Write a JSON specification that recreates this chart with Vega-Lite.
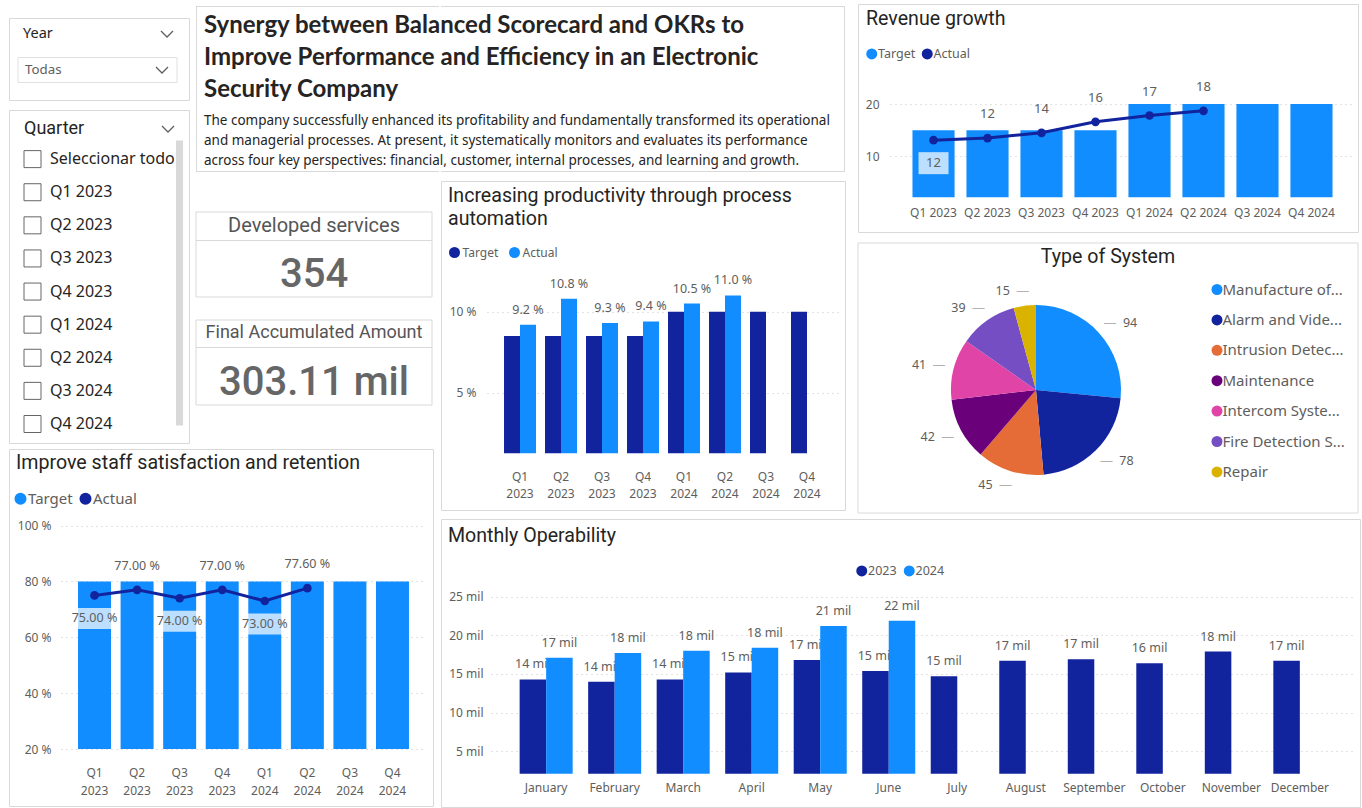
{
  "$schema": "https://vega.github.io/schema/vega-lite/v6.json",
  "background": "white",
  "padding": {"left": 8, "top": 3, "right": 0, "bottom": 0},
  "spacing": 0,
  "title": {
    "text": ["Synergy between Balanced Scorecard and OKRs to", "Improve Performance and Efficiency in an Electronic", "Security Company"],
    "subtitle": ["The company successfully enhanced its profitability and fundamentally transformed its operational", "and managerial processes. At present, it systematically monitors and evaluates its performance", "across four key perspectives: financial, customer, internal processes, and learning and growth."],
    "anchor": "start", "frame": "group", "orient": "top", "offset": -164, "dx": 195,
    "font": "Lato", "fontSize": 24, "fontWeight": "bold", "lineHeight": 32, "color": "#252423",
    "subtitleFont": "Noto Sans", "subtitleFontSize": 13.5, "subtitleLineHeight": 20, "subtitleColor": "#252423", "subtitlePadding": 12
  },
  "resolve": {"scale": {"color": "independent", "xOffset": "independent"}, "legend": {"color": "independent"}},
  "datasets": {
    "yearSlicer": [{"item": "Year", "kind": "head"}, {"item": "Todas", "kind": "value"}],
    "quarterSlicer": [
      {"item": "Quarter", "kind": "head"},
      {"item": "Seleccionar todo", "kind": "option"},
      {"item": "Q1 2023", "kind": "option"},
      {"item": "Q2 2023", "kind": "option"},
      {"item": "Q3 2023", "kind": "option"},
      {"item": "Q4 2023", "kind": "option"},
      {"item": "Q1 2024", "kind": "option"},
      {"item": "Q2 2024", "kind": "option"},
      {"item": "Q3 2024", "kind": "option"},
      {"item": "Q4 2024", "kind": "option"}
    ],
    "edges": [{"side": "top"}, {"side": "bottom"}],
    "kpi": [{"metric": "Developed services", "value": 354}, {"metric": "Final Accumulated Amount", "value": 303.11}],
    "staff": [
      {"q": "Q1 2023", "target": 80, "actual": 75},
      {"q": "Q2 2023", "target": 80, "actual": 77},
      {"q": "Q3 2023", "target": 80, "actual": 74},
      {"q": "Q4 2023", "target": 80, "actual": 77},
      {"q": "Q1 2024", "target": 80, "actual": 73},
      {"q": "Q2 2024", "target": 80, "actual": 77.6},
      {"q": "Q3 2024", "target": 80, "actual": null},
      {"q": "Q4 2024", "target": 80, "actual": null}
    ],
    "prod": [
      {"q": "Q1 2023", "series": "Target", "value": 8.5},
      {"q": "Q2 2023", "series": "Target", "value": 8.5},
      {"q": "Q3 2023", "series": "Target", "value": 8.5},
      {"q": "Q4 2023", "series": "Target", "value": 8.5},
      {"q": "Q1 2024", "series": "Target", "value": 10},
      {"q": "Q2 2024", "series": "Target", "value": 10},
      {"q": "Q3 2024", "series": "Target", "value": 10},
      {"q": "Q4 2024", "series": "Target", "value": 10},
      {"q": "Q1 2023", "series": "Actual", "value": 9.2},
      {"q": "Q2 2023", "series": "Actual", "value": 10.8},
      {"q": "Q3 2023", "series": "Actual", "value": 9.3},
      {"q": "Q4 2023", "series": "Actual", "value": 9.4},
      {"q": "Q1 2024", "series": "Actual", "value": 10.5},
      {"q": "Q2 2024", "series": "Actual", "value": 11.0}
    ],
    "rev": [
      {"q": "Q1 2023", "target": 15, "actual": 13.1, "label": "12"},
      {"q": "Q2 2023", "target": 15, "actual": 13.5, "label": "12"},
      {"q": "Q3 2023", "target": 15, "actual": 14.5, "label": "14"},
      {"q": "Q4 2023", "target": 15, "actual": 16.6, "label": "16"},
      {"q": "Q1 2024", "target": 20, "actual": 17.8, "label": "17"},
      {"q": "Q2 2024", "target": 20, "actual": 18.7, "label": "18"},
      {"q": "Q3 2024", "target": 20, "actual": null, "label": null},
      {"q": "Q4 2024", "target": 20, "actual": null, "label": null}
    ],
    "systems": [
      {"type": "Manufacture of...", "count": 94},
      {"type": "Alarm and Vide...", "count": 78},
      {"type": "Intrusion Detec...", "count": 45},
      {"type": "Maintenance", "count": 42},
      {"type": "Intercom Syste...", "count": 41},
      {"type": "Fire Detection S...", "count": 39},
      {"type": "Repair", "count": 15}
    ],
    "monthly": [
      {"month": "January", "year": "2023", "value": 14.3},
      {"month": "February", "year": "2023", "value": 14.0},
      {"month": "March", "year": "2023", "value": 14.3},
      {"month": "April", "year": "2023", "value": 15.2},
      {"month": "May", "year": "2023", "value": 16.8},
      {"month": "June", "year": "2023", "value": 15.4},
      {"month": "July", "year": "2023", "value": 14.7},
      {"month": "August", "year": "2023", "value": 16.7},
      {"month": "September", "year": "2023", "value": 16.9},
      {"month": "October", "year": "2023", "value": 16.4},
      {"month": "November", "year": "2023", "value": 17.9},
      {"month": "December", "year": "2023", "value": 16.7},
      {"month": "January", "year": "2024", "value": 17.1},
      {"month": "February", "year": "2024", "value": 17.7},
      {"month": "March", "year": "2024", "value": 18.0},
      {"month": "April", "year": "2024", "value": 18.4},
      {"month": "May", "year": "2024", "value": 21.2},
      {"month": "June", "year": "2024", "value": 21.9}
    ]
  },
  "hconcat": [
    {
      "spacing": 4,
      "resolve": {"scale": {"color": "independent", "xOffset": "independent"}, "legend": {"color": "independent"}},
      "vconcat": [
        {
          "spacing": 5,
          "resolve": {"scale": {"color": "independent", "xOffset": "independent"}, "legend": {"color": "independent"}},
          "hconcat": [
            {
              "spacing": 8,
              "vconcat": [
                {"width": 180, "height": 5, "data": {"values": []}, "mark": "text", "view": {"stroke": null}},
                {
                  "spacing": 8,
                  "vconcat": [
                    {
                      "width": 180, "height": 82,
                      "data": {"name": "yearSlicer"},
                      "encoding": {"y": {"field": "kind", "type": "nominal", "scale": {"type": "point", "domain": ["head", "value"], "range": [16, 52], "padding": 0}, "axis": null}},
                      "layer": [
                        {"transform": [{"filter": {"field": "kind", "equal": "head"}}], "mark": {"type": "text", "align": "left", "dx": -76, "font": "Noto Sans", "fontSize": 14.5, "color": "#252423"}, "encoding": {"text": {"field": "item"}}},
                        {"transform": [{"filter": {"field": "kind", "equal": "head"}}], "mark": {"type": "point", "shape": "M-1,-0.5L0,0.5L1,-0.5", "size": 144, "filled": false, "color": "#605E5C", "strokeWidth": 1.3, "opacity": 1, "xOffset": 68}},
                        {"transform": [{"filter": {"field": "kind", "equal": "value"}}], "mark": {"type": "point", "shape": "M-1,-0.157L1,-0.157L1,0.157L-1,0.157Z", "size": 25281, "filled": false, "color": "#E1E1E1", "strokeWidth": 1, "opacity": 1, "xOffset": -1.5}},
                        {"transform": [{"filter": {"field": "kind", "equal": "value"}}], "mark": {"type": "text", "align": "left", "dx": -74, "font": "Noto Sans", "fontSize": 13.3, "color": "#605E5C"}, "encoding": {"text": {"field": "item"}}},
                        {"transform": [{"filter": {"field": "kind", "equal": "value"}}], "mark": {"type": "point", "shape": "M-1,-0.5L0,0.5L1,-0.5", "size": 144, "filled": false, "color": "#605E5C", "strokeWidth": 1.3, "opacity": 1, "xOffset": 63}}
                      ]
                    },
                    {
                      "width": 180, "height": 333,
                      "data": {"name": "quarterSlicer"},
                      "encoding": {"y": {"field": "item", "type": "nominal", "scale": {"type": "point", "domain": ["Quarter", "Seleccionar todo", "Q1 2023", "Q2 2023", "Q3 2023", "Q4 2023", "Q1 2024", "Q2 2024", "Q3 2024", "Q4 2024"], "range": [16, 314], "padding": 0}, "axis": null}},
                      "layer": [
                        {"transform": [{"filter": {"field": "kind", "equal": "head"}}], "mark": {"type": "text", "align": "left", "dx": -75, "dy": 3, "font": "Roboto", "fontSize": 18, "color": "#252423"}, "encoding": {"text": {"field": "item"}}},
                        {"transform": [{"filter": {"field": "kind", "equal": "head"}}], "mark": {"type": "point", "shape": "M-1,-0.5L0,0.5L1,-0.5", "size": 144, "filled": false, "color": "#605E5C", "strokeWidth": 1.3, "opacity": 1, "xOffset": 69, "yOffset": 3}},
                        {"transform": [{"filter": {"field": "kind", "equal": "option"}}], "mark": {"type": "text", "align": "left", "dx": -49, "font": "Noto Sans", "fontSize": 16, "color": "#252423"}, "encoding": {"text": {"field": "item"}}},
                        {"transform": [{"filter": {"field": "kind", "equal": "option"}}], "mark": {"type": "point", "shape": "square", "size": 289, "filled": false, "color": "#666666", "strokeWidth": 1, "opacity": 1, "xOffset": -66.5}},
                        {"transform": [{"filter": {"field": "item", "equal": "Q4 2023"}}], "mark": {"type": "point", "shape": "M-0.0246,-1L0.0246,-1L0.0246,1L-0.0246,1Z", "size": 81225, "filled": true, "color": "#D9D9D9", "opacity": 1, "xOffset": 80.5, "yOffset": -8.6}}
                      ]
                    }
                  ]
                }
              ]
            },
            {
              "spacing": 39,
              "vconcat": [
                {
                  "width": 243, "height": 168,
                  "view": {"stroke": null},
                  "data": {"name": "edges"},
                  "layer": [
                    {"mark": {"type": "rule", "color": "#D9D9D9", "strokeWidth": 1}, "encoding": {"y": {"field": "side", "type": "nominal", "scale": {"type": "point", "domain": ["top", "bottom"], "range": [2.5, 167.5], "padding": 0}, "axis": null}}},
                    {"data": {"values": [{"side": "left"}]}, "mark": {"type": "rule", "color": "#D9D9D9", "strokeWidth": 1}, "encoding": {"x": {"field": "side", "type": "nominal", "scale": {"type": "point", "domain": ["left", "right"], "range": [0.5, 242.5], "padding": 0}, "axis": null}, "y": {"datum": "top", "type": "nominal", "scale": {"type": "point", "domain": ["top", "bottom"], "range": [2.5, 167.5], "padding": 0}}, "y2": {"datum": "bottom"}}}
                  ]
                },
                {
                  "spacing": 21,
                  "vconcat": [
                    {
                      "width": 236, "height": 85,
                      "view": {"stroke": null},
                      "data": {"name": "kpi"},
                      "transform": [{"filter": {"field": "metric", "equal": "Developed services"}}],
                      "layer": [
                        {"data": {"values": [{"box": "card"}]}, "mark": {"type": "rect", "fill": "white", "fillOpacity": 0, "stroke": "#D9D9D9", "strokeWidth": 1}, "encoding": {}},
                        {"data": {"values": [{"box": "card"}]}, "mark": {"type": "rule", "color": "#D9D9D9", "strokeWidth": 1}, "encoding": {"y": {"datum": "separator", "type": "nominal", "scale": {"type": "point", "domain": ["separator"], "range": [28.5, 28.5]}, "axis": null}}},
                        {"mark": {"type": "text", "font": "Roboto", "fontSize": 20, "color": "#555555", "dy": -28.5}, "encoding": {"text": {"field": "metric"}}},
                        {"mark": {"type": "text", "font": "Roboto", "fontSize": 40, "fontWeight": 500, "color": "#666666", "dy": 20}, "encoding": {"text": {"field": "value"}}}
                      ]
                    },
                    {
                      "width": 236, "height": 85,
                      "view": {"stroke": null},
                      "data": {"name": "kpi"},
                      "transform": [{"filter": {"field": "metric", "equal": "Final Accumulated Amount"}}],
                      "layer": [
                        {"data": {"values": [{"box": "card"}]}, "mark": {"type": "rect", "fill": "white", "fillOpacity": 0, "stroke": "#D9D9D9", "strokeWidth": 1}, "encoding": {}},
                        {"data": {"values": [{"box": "card"}]}, "mark": {"type": "rule", "color": "#D9D9D9", "strokeWidth": 1}, "encoding": {"y": {"datum": "separator", "type": "nominal", "scale": {"type": "point", "domain": ["separator"], "range": [27.5, 27.5]}, "axis": null}}},
                        {"mark": {"type": "text", "font": "Roboto", "fontSize": 18, "color": "#555555", "dy": -29.5}, "encoding": {"text": {"field": "metric"}}},
                        {"mark": {"type": "text", "font": "Roboto", "fontSize": 40, "fontWeight": 500, "color": "#666666", "dy": 20.5, "text": {"expr": "format(datum.value, '.2f') + ' mil'"}}}
                      ]
                    }
                  ]
                }
              ]
            }
          ]
        },
        {
          "width": 424, "height": 357,
          "data": {"name": "staff"},
          "title": {"text": "Improve staff satisfaction and retention", "offset": -24.5, "dx": 7},
          "encoding": {
            "x": {"field": "q", "type": "nominal", "scale": {"domain": ["Q1 2023", "Q2 2023", "Q3 2023", "Q4 2023", "Q1 2024", "Q2 2024", "Q3 2024", "Q4 2024"], "range": [52, 417], "paddingInner": 0.225, "paddingOuter": 0.4}, "axis": {"labelExpr": "split(datum.label, ' ')", "labelLineHeight": 18, "labelAngle": 0, "offset": -39, "title": null}}
          },
          "layer": [
            {"mark": {"type": "bar"}, "encoding": {
              "y": {"field": "target", "type": "quantitative", "scale": {"domain": [20, 100], "range": [300, 76.6], "nice": false, "zero": false}, "axis": {"values": [20, 40, 60, 80, 100], "labelExpr": "datum.value + ' %'", "grid": true, "offset": -42, "title": null}},
              "y2": {"datum": 20},
              "color": {"datum": "Target", "type": "nominal", "scale": {"domain": ["Target", "Actual"], "range": ["#118DFF", "#12239E"]}, "legend": {"orient": "none", "legendX": 4, "legendY": 42, "direction": "horizontal", "title": null, "labelFontSize": 15, "symbolSize": 144, "columnPadding": 5, "labelOffset": 0}}
            }},
            {"mark": {"type": "line", "strokeWidth": 3, "point": {"filled": true, "size": 75, "opacity": 1}}, "encoding": {"y": {"field": "actual", "type": "quantitative"}, "color": {"datum": "Actual", "type": "nominal"}}},
            {"transform": [{"filter": {"field": "q", "oneOf": ["Q1 2023", "Q3 2023", "Q1 2024"]}}], "mark": {"type": "point", "shape": "M-1,-0.4375L1,-0.4375L1,0.4375L-1,0.4375Z", "size": 2304, "filled": true, "color": "white", "opacity": 0.72, "strokeWidth": 0, "yOffset": 23}, "encoding": {"y": {"field": "actual", "type": "quantitative"}}},
            {"transform": [{"filter": {"field": "q", "oneOf": ["Q1 2023", "Q3 2023", "Q1 2024"]}}], "mark": {"type": "text", "dy": 23, "fontSize": 12.5, "color": "#605E5C", "text": {"expr": "format(datum.actual, '.2f') + ' %'"}}, "encoding": {"y": {"field": "actual", "type": "quantitative"}}},
            {"transform": [{"filter": {"field": "q", "oneOf": ["Q2 2023", "Q4 2023", "Q2 2024"]}}], "mark": {"type": "text", "dy": -24, "fontSize": 12.5, "color": "#605E5C", "text": {"expr": "format(datum.actual, '.2f') + ' %'"}}, "encoding": {"y": {"field": "actual", "type": "quantitative"}}}
          ]
        }
      ]
    },
    {
      "spacing": 4,
      "resolve": {"scale": {"color": "independent", "xOffset": "independent"}, "legend": {"color": "independent"}},
      "vconcat": [
        {
          "spacing": 11,
          "resolve": {"scale": {"color": "independent", "xOffset": "independent"}, "legend": {"color": "independent"}},
          "hconcat": [
            {
              "spacing": 8,
              "resolve": {"scale": {"color": "independent", "xOffset": "independent"}, "legend": {"color": "independent"}},
              "vconcat": [
                {
                  "width": 404, "height": 168,
                  "view": {"stroke": null},
                  "data": {"name": "edges"},
                  "layer": [
                    {"mark": {"type": "rule", "color": "#D9D9D9", "strokeWidth": 1}, "encoding": {"y": {"field": "side", "type": "nominal", "scale": {"type": "point", "domain": ["top", "bottom"], "range": [2.5, 167.5], "padding": 0}, "axis": null}}},
                    {"data": {"values": [{"side": "right"}]}, "mark": {"type": "rule", "color": "#D9D9D9", "strokeWidth": 1}, "encoding": {"x": {"field": "side", "type": "nominal", "scale": {"type": "point", "domain": ["left", "right"], "range": [0.5, 403.5], "padding": 0}, "axis": null}, "y": {"datum": "top", "type": "nominal", "scale": {"type": "point", "domain": ["top", "bottom"], "range": [2.5, 167.5], "padding": 0}}, "y2": {"datum": "bottom"}}}
                  ]
                },
                {
                  "width": 404, "height": 329,
                  "data": {"name": "prod"},
                  "title": {"text": ["Increasing productivity through process", "automation"], "lineHeight": 23, "offset": -48.5, "dx": 7},
                  "encoding": {
                    "x": {"field": "q", "type": "nominal", "scale": {"domain": ["Q1 2023", "Q2 2023", "Q3 2023", "Q4 2023", "Q1 2024", "Q2 2024", "Q3 2024", "Q4 2024"], "range": [46, 399], "paddingInner": 0.22, "paddingOuter": 0.415}, "axis": {"labelExpr": "split(datum.label, ' ')", "labelLineHeight": 17, "labelAngle": 0, "offset": -38.5, "title": null}},
                    "xOffset": {"field": "series", "type": "nominal", "scale": {"domain": ["Target", "Actual"]}}
                  },
                  "layer": [
                    {"mark": {"type": "bar"}, "encoding": {
                      "y": {"field": "value", "type": "quantitative", "scale": {"domain": [1.26, 10], "range": [272.3, 130.7], "nice": false, "zero": false}, "axis": {"values": [5, 10], "labelExpr": "datum.value + ' %'", "grid": true, "offset": -35, "title": null}},
                      "y2": {"datum": 1.26},
                      "color": {"field": "series", "type": "nominal", "scale": {"domain": ["Target", "Actual"], "range": ["#12239E", "#118DFF"]}, "legend": {"orient": "none", "legendX": 7.5, "legendY": 65.5, "direction": "horizontal", "title": null, "labelFontSize": 12, "symbolSize": 121, "columnPadding": 10, "labelOffset": 2}}
                    }},
                    {"transform": [{"filter": {"field": "series", "equal": "Actual"}}], "mark": {"type": "text", "dy": -15, "fontSize": 12.5, "color": "#605E5C", "text": {"expr": "format(datum.value, '.1f') + ' %'"}}, "encoding": {"y": {"field": "value", "type": "quantitative"}}}
                  ]
                }
              ]
            },
            {
              "spacing": 9,
              "resolve": {"scale": {"color": "independent"}, "legend": {"color": "independent"}},
              "vconcat": [
                {
                  "width": 500, "height": 228,
                  "data": {"name": "rev"},
                  "title": {"text": "Revenue growth", "offset": -25.5, "dx": 8},
                  "encoding": {
                    "x": {"field": "q", "type": "nominal", "scale": {"domain": ["Q1 2023", "Q2 2023", "Q3 2023", "Q4 2023", "Q1 2024", "Q2 2024", "Q3 2024", "Q4 2024"], "range": [32, 497], "paddingInner": 0.22, "paddingOuter": 0.416}, "axis": {"labelAngle": 0, "offset": -24.5, "title": null}}
                  },
                  "layer": [
                    {"mark": {"type": "bar"}, "encoding": {
                      "y": {"field": "target", "type": "quantitative", "scale": {"domain": [2.2, 20], "range": [193.3, 100], "nice": false, "zero": false}, "axis": {"values": [10, 20], "grid": true, "offset": -21, "title": null}},
                      "y2": {"datum": 2.2},
                      "color": {"datum": "Target", "type": "nominal", "scale": {"domain": ["Target", "Actual"], "range": ["#118DFF", "#12239E"]}, "legend": {"orient": "none", "legendX": 7.5, "legendY": 43.5, "direction": "horizontal", "title": null, "labelFontSize": 12.5, "symbolSize": 121, "columnPadding": 5.5, "labelOffset": 0}}
                    }},
                    {"mark": {"type": "line", "strokeWidth": 3, "point": {"filled": true, "size": 75, "opacity": 1}}, "encoding": {"y": {"field": "actual", "type": "quantitative"}, "color": {"datum": "Actual", "type": "nominal"}}},
                    {"transform": [{"filter": {"field": "q", "equal": "Q1 2023"}}], "mark": {"type": "point", "shape": "M-1,-0.733L1,-0.733L1,0.733L-1,0.733Z", "size": 900, "filled": true, "color": "white", "opacity": 0.72, "strokeWidth": 0, "yOffset": 23}, "encoding": {"y": {"field": "actual", "type": "quantitative"}}},
                    {"transform": [{"filter": {"field": "q", "equal": "Q1 2023"}}], "mark": {"type": "text", "dy": 23, "fontSize": 13, "color": "#605E5C"}, "encoding": {"y": {"field": "actual", "type": "quantitative"}, "text": {"field": "label"}}},
                    {"transform": [{"filter": {"field": "q", "oneOf": ["Q2 2023", "Q3 2023", "Q4 2023", "Q1 2024", "Q2 2024"]}}], "mark": {"type": "text", "dy": -24, "fontSize": 13, "color": "#605E5C"}, "encoding": {"y": {"field": "actual", "type": "quantitative"}, "text": {"field": "label"}}}
                  ]
                },
                {
                  "width": 500, "height": 270,
                  "view": {"stroke": null},
                  "data": {"name": "systems"},
                  "title": {"text": "Type of System", "anchor": "middle", "offset": -25.5},
                  "layer": [
                    {"data": {"values": [{"box": "card"}]}, "mark": {"type": "rect", "fill": "white", "fillOpacity": 0, "stroke": "#D9D9D9", "strokeWidth": 1}, "encoding": {}},
                    {"mark": {"type": "arc", "outerRadius": 85, "xOffset": -72, "yOffset": 12}, "encoding": {
                      "theta": {"field": "count", "type": "quantitative", "stack": true},
                      "order": {"field": "count", "sort": "descending"},
                      "color": {"field": "type", "type": "nominal", "sort": ["Manufacture of...", "Alarm and Vide...", "Intrusion Detec...", "Maintenance", "Intercom Syste...", "Fire Detection S...", "Repair"], "scale": {"domain": ["Manufacture of...", "Alarm and Vide...", "Intrusion Detec...", "Maintenance", "Intercom Syste...", "Fire Detection S...", "Repair"], "range": ["#118DFF", "#12239E", "#E66C37", "#6B007B", "#E044A7", "#744EC2", "#D9B300"]}, "legend": {"orient": "none", "legendX": 351.5, "legendY": 39, "direction": "vertical", "title": null, "labelFontSize": 15, "symbolSize": 121, "rowPadding": 14.4, "labelOffset": -2}}
                    }},
                    {"mark": {"type": "text", "radius": 100, "xOffset": -72, "yOffset": 12, "fontSize": 13, "color": "#B3B0AD", "text": "—"}, "encoding": {
                      "theta": {"field": "count", "type": "quantitative", "stack": true},
                      "order": {"field": "count", "sort": "descending"}
                    }},
                    {"mark": {"type": "text", "radius": 100, "xOffset": -72, "yOffset": 12, "dx": {"expr": "datum.count_start + datum.count_end < 354 ? 20 : -20"}, "fontSize": 12.5, "color": "#605E5C"}, "encoding": {
                      "theta": {"field": "count", "type": "quantitative", "stack": true},
                      "order": {"field": "count", "sort": "descending"},
                      "text": {"field": "count"}
                    }}
                  ]
                }
              ]
            }
          ]
        },
        {
          "width": 919, "height": 288,
          "data": {"name": "monthly"},
          "title": {"text": "Monthly Operability", "offset": -27.5, "dx": 7},
          "encoding": {
            "x": {"field": "month", "type": "nominal", "scale": {"domain": ["January", "February", "March", "April", "May", "June", "July", "August", "September", "October", "November", "December"], "range": [50, 914], "paddingInner": 0.226, "paddingOuter": 0.418}, "axis": {"labelAngle": 0, "offset": -25, "title": null}},
            "xOffset": {"field": "year", "type": "nominal", "scale": {"domain": ["2023", "2024"]}},
            "y": {"field": "value", "type": "quantitative", "scale": {"domain": [2.1, 25], "range": [254.7, 77.7], "nice": false, "zero": false}, "axis": {"values": [5, 10, 15, 20, 25], "labelExpr": "datum.value + ' mil'", "grid": true, "offset": -42, "title": null}}
          },
          "layer": [
            {"transform": [{"filter": {"field": "year", "equal": "2023"}}], "mark": {"type": "bar"}, "encoding": {"y2": {"datum": 2.1}, "color": {"field": "year", "type": "nominal", "scale": {"domain": ["2023", "2024"], "range": ["#12239E", "#118DFF"]}, "legend": {"orient": "none", "legendX": 414.5, "legendY": 45.5, "direction": "horizontal", "title": null, "labelFontSize": 12.5, "symbolSize": 121, "columnPadding": 5.5, "labelOffset": 0}}}},
            {"transform": [{"filter": {"field": "year", "equal": "2023"}}], "mark": {"type": "text", "dy": -15, "fontSize": 12.5, "color": "#605E5C", "text": {"expr": "format(datum.value, '.0f') + ' mil'"}}},
            {"transform": [{"filter": {"field": "year", "equal": "2024"}}], "mark": {"type": "bar"}, "encoding": {"y2": {"datum": 2.1}, "color": {"field": "year", "type": "nominal"}}},
            {"transform": [{"filter": {"field": "year", "equal": "2024"}}], "mark": {"type": "text", "dy": -15, "fontSize": 12.5, "color": "#605E5C", "text": {"expr": "format(datum.value, '.0f') + ' mil'"}}}
          ]
        }
      ]
    }
  ],
  "config": {
    "view": {"stroke": "#D9D9D9", "strokeWidth": 1},
    "font": "Noto Sans",
    "title": {"font": "Roboto", "fontSize": 19.6, "fontWeight": "normal", "color": "#252423", "anchor": "start", "frame": "group"},
    "axis": {"labelFont": "Noto Sans", "labelFontSize": 12, "labelColor": "#605E5C", "domain": false, "ticks": false, "tickSize": 0, "labelPadding": 0, "grid": false, "gridColor": "#C8C6C4", "gridDash": [1, 4], "labelOverlap": false},
    "legend": {"labelFont": "Noto Sans", "labelColor": "#605E5C", "symbolType": "circle", "padding": 0, "labelLimit": 300, "symbolStrokeWidth": 0},
    "text": {"font": "Noto Sans", "color": "#605E5C", "fontSize": 12.5},
    "point": {"opacity": 1}
  }
}
